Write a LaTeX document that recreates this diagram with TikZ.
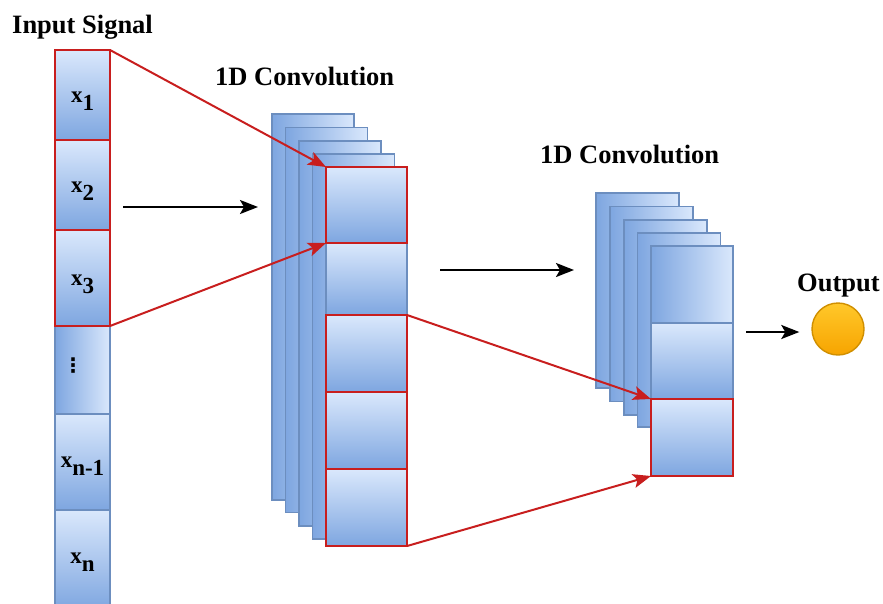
\documentclass[tikz,border=0pt]{standalone}
\usepackage{fontspec}
\setmainfont{Liberation Serif}
\newfontfamily\dejavu{DejaVu Sans}
\usetikzlibrary{arrows.meta}
\definecolor{cellA}{HTML}{DAE8FC}
\definecolor{cellB}{HTML}{7EA6E0}
\definecolor{cellE}{HTML}{6C8EBF}
\definecolor{redE}{HTML}{C81E1E}
\definecolor{orA}{HTML}{FFC82A}
\definecolor{orB}{HTML}{F7A400}
\definecolor{orE}{HTML}{D08F00}
\newcommand{\xlab}[1]{x\raisebox{-8pt}{#1}}
\begin{document}
\begin{tikzpicture}[x=1pt,y=-1pt,
  box/.style={rectangle, inner sep=0pt, outer sep=0pt, anchor=north west, line width=1.4pt},
  vcell/.style={box, draw=cellE, top color=cellA, bottom color=cellB},
  hcell/.style={box, draw=cellE, left color=cellB, right color=cellA},
  rcell/.style={box, draw=redE, line width=2pt, top color=cellA, bottom color=cellB},
  layer/.style={box, draw=cellE, left color=cellB, right color=cellA},
  lab/.style={font=\fontsize{23}{25}\selectfont\bfseries},
  title/.style={anchor=base west, inner sep=0pt, font=\fontsize{26.5}{28}\selectfont\bfseries},
  redarrow/.style={draw=redE, line width=2pt, -{Stealth[length=18pt,width=14pt,inset=4pt]}},
  blkarrow/.style={draw=black, line width=2.2pt, -{Stealth[length=18pt,width=14pt,inset=4pt]}}
]
\useasboundingbox (0,0) rectangle (883,603);

% titles
\node[title] (tin) at (12,33) {Input Signal};
\node[title] (tc1) at (215,85) {1D Convolution};
\node[title] (tc2) at (540,163) {1D Convolution};
\node[title] (tout) at (797,291) {Output};

% input column
\node[hcell, minimum width=55pt, minimum height=88pt] (xd) at (55,326) {};
\node[vcell, minimum width=55pt, minimum height=96pt] (xn1) at (55,414) {};
\node[vcell, minimum width=55pt, minimum height=100pt] (xn) at (55,510) {};
\node[rcell, minimum width=55pt, minimum height=90pt] (x1) at (55,50) {};
\node[rcell, minimum width=55pt, minimum height=90pt] (x2) at (55,140) {};
\node[rcell, minimum width=55pt, minimum height=96pt] (x3) at (55,230) {};
\node[lab] at ([yshift=-6pt]x1.center) {\xlab{1}};
\node[lab] at ([yshift=-6pt]x2.center) {\xlab{2}};
\node[lab] at ([yshift=-6pt]x3.center) {\xlab{3}};
\node[lab] at ([yshift=-4pt]xn1.center) {\xlab{n-1}};
\node[lab] at ([yshift=-2pt]xn.center) {\xlab{n}};
\node[inner sep=0pt, font=\dejavu\bfseries\fontsize{20}{20}\selectfont] (vd) at (73,366) {⋮};

% middle stack
\node[layer, minimum width=82pt, minimum height=386pt] (ma) at (272,114) {};
\node[layer, minimum width=82pt, minimum height=385pt] (mb) at (285.5,127.5) {};
\node[layer, minimum width=82pt, minimum height=385pt] (mc) at (299,141) {};
\node[layer, minimum width=82pt, minimum height=385pt] (md) at (312.5,154) {};
\node[vcell, minimum width=81pt, minimum height=72pt] (m2) at (326,243) {};
\node[rcell, minimum width=81pt, minimum height=76pt] (m1) at (326,167) {};
\node[rcell, minimum width=81pt, minimum height=77pt] (m3) at (326,315) {};
\node[rcell, minimum width=81pt, minimum height=77pt] (m4) at (326,392) {};
\node[rcell, minimum width=81pt, minimum height=77pt] (m5) at (326,469) {};

% right stack
\node[layer, minimum width=83pt, minimum height=195pt] (ra) at (596,193) {};
\node[layer, minimum width=83pt, minimum height=195pt] (rb) at (610,206.5) {};
\node[layer, minimum width=83pt, minimum height=195pt] (rc) at (624,220) {};
\node[layer, minimum width=83pt, minimum height=194pt] (rd) at (637.5,233) {};
\node[hcell, minimum width=82pt, minimum height=77pt] (r1) at (651,246) {};
\node[vcell, minimum width=82pt, minimum height=76pt] (r2) at (651,323) {};
\node[rcell, minimum width=82pt, minimum height=77pt] (r3) at (651,399) {};

% output
\node[circle, draw=orE, line width=1.4pt, top color=orA, bottom color=orB, minimum size=52pt, inner sep=0pt] (out) at (838,329) {};

% black arrows
\coordinate (a1s) at (123,207);
\coordinate (a1e) at (258,207);
\coordinate (a2s) at (440,270);
\coordinate (a2e) at (574,270);
\coordinate (a3s) at (746,332);
\draw[blkarrow] (a1s) -- (a1e);
\draw[blkarrow] (a2s) -- (a2e);
\draw[blkarrow, shorten >=12pt] (a3s) -- (a3s -| out.west);

% red arrows
\draw[redarrow] (x1.north east) -- (m1.north west);
\draw[redarrow] (x3.south east) -- (m1.south west);
\draw[redarrow] (m3.north east) -- (r3.north west);
\draw[redarrow] (m5.south east) -- (r3.south west);
\end{tikzpicture}
\end{document}
